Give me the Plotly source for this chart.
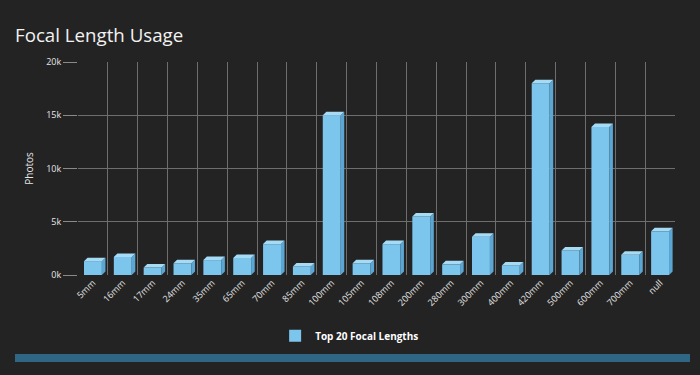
import plotly.graph_objects as go

categories = ["5mm", "16mm", "17mm", "24mm", "35mm", "65mm", "70mm", "85mm", "100mm", "105mm",
              "108mm", "200mm", "280mm", "300mm", "400mm", "420mm", "500mm", "600mm", "700mm", "null"]
photos = [1300, 1700, 700, 1100, 1400, 1600, 2900, 800, 15000, 1100,
          2900, 5500, 1000, 3600, 900, 18000, 2300, 13900, 1900, 4100]
y_tick_vals = [0, 5000, 10000, 15000, 20000]
y_tick_text = ["0k", "5k", "10k", "15k", "20k"]
series_name = "Top 20 Focal Lengths"

BG = "#232323"
FRONT = "#7cc5ec"
TOP = "#a6dbf5"
SIDE = "#5ba6d2"
TXT = "#e6e6e6"
GRID = "#6e6e6e"

bw = 0.6     # bar width in category units
dx = 0.12    # fake depth, x
dy = 330     # fake depth, y

xs = list(range(len(categories)))

top_x, top_y, side_x, side_y = [], [], [], []
for i, v in zip(xs, photos):
    l, r = i - bw / 2, i + bw / 2
    top_x += [l, l + dx, r + dx, r, l, None]
    top_y += [v, v + dy, v + dy, v, v, None]
    side_x += [r, r + dx, r + dx, r, r, None]
    side_y += [0, dy, v + dy, v, 0, None]

fig = go.Figure()
fig.add_trace(go.Scatter(x=side_x, y=side_y, fill="toself", fillcolor=SIDE, mode="lines",
                         line=dict(width=0), showlegend=False, hoverinfo="skip"))
fig.add_trace(go.Bar(x=xs, y=photos, width=bw, name="<b>" + series_name + "</b>",
                     marker=dict(color=FRONT, line=dict(width=0)),
                     customdata=categories,
                     hovertemplate="%{customdata}: %{y}<extra></extra>"))
fig.add_trace(go.Scatter(x=top_x, y=top_y, fill="toself", fillcolor=TOP, mode="lines",
                         line=dict(width=0), showlegend=False, hoverinfo="skip"))

fig.update_layout(
    width=700, height=375,
    paper_bgcolor=BG, plot_bgcolor=BG,
    margin=dict(l=78, r=25, t=62, b=100),
    font=dict(family="Open Sans", color=TXT, size=9),
    title=dict(text="Focal Length Usage", x=15 / 700, xanchor="left", xref="container",
               y=1 - 35 / 375, yanchor="middle", yref="container",
               font=dict(size=18.7, color="#f2f2f2", family="Open Sans")),
    showlegend=True,
    legend=dict(orientation="h", x=0.455, xanchor="center", y=-0.217, yanchor="top",
                font=dict(size=10, color="#ffffff", family="Open Sans"),
                bgcolor="rgba(0,0,0,0)"),
    bargap=0.4,
    xaxis=dict(
        range=[-0.5, len(categories) - 0.5],
        tickmode="array", tickvals=xs, ticktext=categories,
        tickangle=-45, showgrid=False, zeroline=False, showline=False,
        ticks="", tickfont=dict(size=9, color=TXT),
        minor=dict(tickvals=[i - 0.5 for i in range(len(categories) + 1)],
                   showgrid=True, gridcolor=GRID, gridwidth=1, ticks=""),
    ),
    yaxis=dict(
        range=[0, 20000],
        tickmode="array", tickvals=y_tick_vals, ticktext=y_tick_text,
        showgrid=True, gridcolor=GRID, gridwidth=1, zeroline=False,
        ticks="outside", ticklen=14, tickcolor="#8a8a8a", showline=False,
        tickfont=dict(size=9, color=TXT),
        title=dict(text="Photos", font=dict(size=10, color=TXT), standoff=10),
    ),
    shapes=[dict(type="rect", xref="paper", yref="paper",
                 x0=(15 - 78) / 597, x1=(690 - 78) / 597,
                 y0=(275 - 362) / 213, y1=(275 - 354) / 213,
                 fillcolor="#2e6684", line=dict(width=0), layer="above")],
)

fig.write_html("out.html", config={"displayModeBar": False},
               post_script="document.body.style.margin='0';document.body.style.background='#232323';document.body.style.overflow='hidden';")
